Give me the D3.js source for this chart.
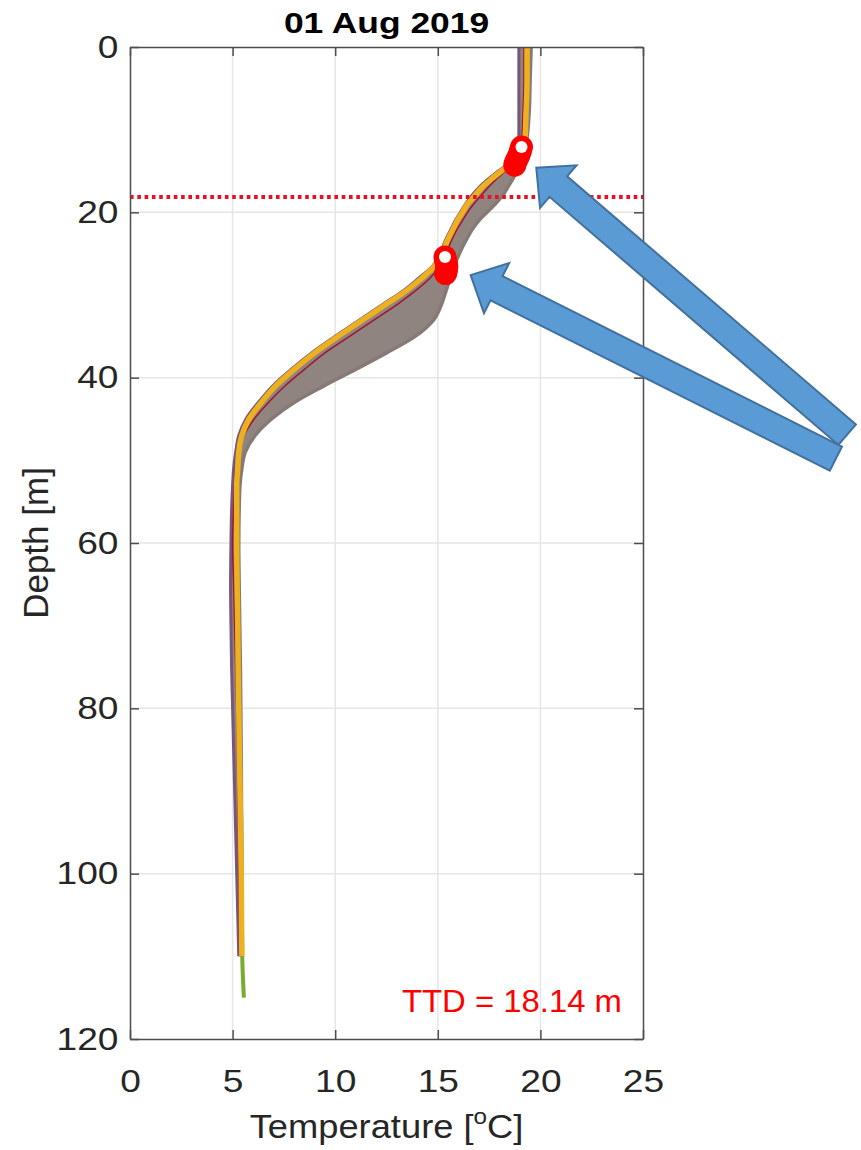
<!DOCTYPE html>
<html>
<head>
<meta charset="utf-8">
<script src="https://cdn.jsdelivr.net/npm/d3@7"></script>
<style>
  body { margin: 0; background: #fff; }
  svg { display: block; font-family: "Liberation Sans", Arial, Helvetica, sans-serif; }
</style>
</head>
<body>
<div id="main"></div>
<script>
// title / annotation
const titleText = '01 Aug 2019';
const ttdDepth = 18.14;

// tick values
const xTicks = [0, 5, 10, 15, 20, 25];
const yTicks = [0, 20, 40, 60, 80, 100, 120];

// depth levels (m) of the profiles
const depths     = [0, 4, 8, 11, 12.5, 14, 15, 16, 17, 18, 19, 20, 21, 22, 23.5, 25, 26.5, 28, 29.5, 31, 33, 35, 37, 39, 41, 43, 45, 47, 49, 51, 53, 56, 60, 65, 70, 75, 80, 90, 100, 110];
// coldest edge of the bundle of profiles
const coldEdge   = [18.95, 18.95, 18.95, 18.95, 18.9, 18.5, 17.95, 17.45, 17.0, 16.65, 16.35, 16.1, 15.85, 15.65, 15.35, 15.1, 14.75, 14.05, 13.3, 12.4, 11.2, 10.0, 8.85, 7.85, 6.95, 6.25, 5.65, 5.3, 5.15, 5.05, 5.0, 4.95, 4.92, 4.9, 4.92, 4.95, 5.0, 5.1, 5.2, 5.3];
// warmest edge of the bundle
const warmEdge   = [19.55, 19.5, 19.45, 19.35, 19.25, 19.0, 18.85, 18.65, 18.4, 18.15, 17.8, 17.4, 17.0, 16.7, 16.35, 16.05, 15.8, 15.6, 15.4, 15.2, 14.8, 13.9, 12.5, 11.0, 9.45, 8.0, 6.9, 6.1, 5.62, 5.45, 5.36, 5.32, 5.3, 5.32, 5.35, 5.38, 5.4, 5.43, 5.45, 5.45];
// single profiles that stand out
const yellowTemp = [19.35, 19.35, 19.3, 19.25, 19.1, 18.6, 18.1, 17.6, 17.15, 16.8, 16.45, 16.2, 15.95, 15.75, 15.45, 15.2, 14.85, 14.2, 13.45, 12.55, 11.35, 10.15, 9.0, 8.0, 7.1, 6.4, 5.8, 5.45, 5.3, 5.25, 5.2, 5.2, 5.2, 5.22, 5.25, 5.27, 5.3, 5.36, 5.42, 5.45];
const redTemp    = [19.2, 19.2, 19.15, 19.1, 19.0, 18.7, 18.3, 17.85, 17.45, 17.1, 16.75, 16.45, 16.2, 15.95, 15.65, 15.4, 15.1, 14.6, 13.9, 13.1, 11.9, 10.7, 9.5, 8.5, 7.55, 6.75, 6.05, 5.55, 5.3, 5.15, 5.1, 5.05, 5.0, 5.05, 5.1, 5.15, 5.2, 5.25, 5.3, 5.35];
const greenDepths = [60, 70, 80, 90, 100, 110, 115];
const greenTemp   = [5.25, 5.3, 5.35, 5.4, 5.44, 5.47, 5.55];

// detected layer markers
const upperMarkT = [18.75, 18.8, 18.88, 18.95, 19.02, 19.08];
const upperMarkD = [14.3, 13.9, 13.5, 13.1, 12.6, 12.1];
const lowerMarkT = [15.38, 15.42, 15.44, 15.42, 15.38, 15.35];
const lowerMarkD = [27.4, 27.0, 26.6, 26.2, 25.8, 25.4];

// call-out arrows (tip and tail, in data units)
const arrowTipT  = [19.8, 16.6];
const arrowTipD  = [14.6, 27.6];
const arrowTailT = [34.95, 34.4];
const arrowTailD = [46.9, 49.8];

const W = 861, H = 1150;
const stretch = 1.16;

const svg = d3.select('#main').append('svg')
  .attr('width', W)
  .attr('height', H);

const x = d3.scaleLinear().domain([0, 25]).range([130, 643]);
const y = d3.scaleLinear().domain([0, 120]).range([47, 1039]);

svg.append('clipPath').attr('id', 'plot')
  .append('rect')
  .attr('x', x(0)).attr('y', y(0))
  .attr('width', x(25) - x(0)).attr('height', y(120) - y(0));

// grid
const grid = svg.append('g');
grid.selectAll('.vg').data(xTicks.slice(1, -1)).enter().append('line')
  .attr('x1', d => x(d)).attr('x2', d => x(d))
  .attr('y1', y(0)).attr('y2', y(120))
  .attr('stroke', '#e6e6e6').attr('stroke-width', 1.5);
grid.selectAll('.hg').data(yTicks.slice(1, -1)).enter().append('line')
  .attr('x1', x(0)).attr('x2', x(25))
  .attr('y1', d => y(d)).attr('y2', d => y(d))
  .attr('stroke', '#e6e6e6').attr('stroke-width', 1.5);

// profiles
const plot = svg.append('g').attr('clip-path', 'url(#plot)');

const band = depths.map((d, i) => ({ d: d, c: coldEdge[i], w: warmEdge[i] }));
const toPts = (temps, ds) => temps.map((t, i) => ({ t: t, d: ds[i] }));

const line = d3.line()
  .x(p => x(p.t))
  .y(p => y(p.d))
  .curve(d3.curveMonotoneY);

const area = d3.area()
  .y(p => y(p.d))
  .x0(p => x(p.c))
  .x1(p => x(p.w))
  .curve(d3.curveMonotoneY);

plot.append('path')
  .attr('d', line(toPts(greenTemp, greenDepths)))
  .attr('fill', 'none').attr('stroke', '#77AC30').attr('stroke-width', 4);

plot.append('path')
  .attr('d', area(band))
  .attr('fill', '#8f8480');

plot.append('path')
  .attr('d', line(toPts(warmEdge, depths)))
  .attr('fill', 'none').attr('stroke', '#877a75').attr('stroke-width', 3.5);

plot.append('path')
  .attr('d', line(toPts(coldEdge, depths)))
  .attr('fill', 'none').attr('stroke', '#76577a').attr('stroke-width', 3);

plot.append('path')
  .attr('d', line(toPts(redTemp, depths)))
  .attr('fill', 'none').attr('stroke', '#A2142F').attr('stroke-width', 1.5);

plot.append('path')
  .attr('d', line(toPts(yellowTemp, depths)))
  .attr('fill', 'none').attr('stroke', '#EDB120').attr('stroke-width', 5.5)
  .attr('stroke-linejoin', 'round');

// TTD line
plot.append('line')
  .attr('x1', x(0)).attr('x2', x(25))
  .attr('y1', y(ttdDepth)).attr('y2', y(ttdDepth))
  .attr('stroke', '#ee0d22').attr('stroke-width', 4)
  .attr('stroke-dasharray', '3.6,3.7');

// markers
[[upperMarkT, upperMarkD], [lowerMarkT, lowerMarkD]].forEach(([ts, ds]) => {
  const pts = toPts(ts, ds);
  plot.selectAll(null).data(pts).enter().append('circle')
    .attr('cx', p => x(p.t)).attr('cy', p => y(p.d))
    .attr('r', 11.5).attr('fill', '#ff0000');
  const top = pts[pts.length - 1];
  plot.append('circle')
    .attr('cx', x(top.t)).attr('cy', y(top.d))
    .attr('r', 6).attr('fill', '#fff');
});

// axes: ticks inside on all four sides
const axisColor = '#4d4d4d';
const styleAxis = g => {
  g.select('.domain').attr('stroke', axisColor).attr('stroke-width', 1.5);
  g.selectAll('.tick line').attr('stroke', axisColor).attr('stroke-width', 1.5);
  g.selectAll('.tick text')
    .attr('fill', '#262626')
    .attr('font-size', 32)
    .attr('font-family', '"Liberation Sans", Arial, sans-serif');
};

svg.append('g')
  .attr('transform', `translate(0,${y(120)})`)
  .call(d3.axisBottom(x).tickValues(xTicks).tickSizeInner(-9).tickSizeOuter(0).tickPadding(30))
  .call(styleAxis)
  .selectAll('.tick text').attr('transform', `scale(${stretch},1)`);

svg.append('g')
  .attr('transform', `translate(0,${y(0)})`)
  .call(d3.axisTop(x).tickValues(xTicks).tickSizeInner(-9).tickSizeOuter(0).tickFormat(''))
  .call(styleAxis);

svg.append('g')
  .attr('transform', `translate(${x(0)},0)`)
  .call(d3.axisLeft(y).tickValues(yTicks).tickSizeInner(-9).tickSizeOuter(0).tickPadding(10))
  .call(styleAxis)
  .selectAll('.tick text').attr('transform', `scale(${stretch},1)`);

svg.append('g')
  .attr('transform', `translate(${x(25)},0)`)
  .call(d3.axisRight(y).tickValues(yTicks).tickSizeInner(-9).tickSizeOuter(0).tickFormat(''))
  .call(styleAxis);

// texts
const cx = (x(0) + x(25)) / 2;

svg.append('text')
  .attr('transform', `translate(${cx},33) scale(1.18,1)`)
  .attr('text-anchor', 'middle')
  .attr('font-weight', 'bold')
  .attr('font-size', 30)
  .attr('fill', '#000')
  .text(titleText);

const xl = svg.append('text')
  .attr('transform', `translate(${cx},1138) scale(1.1,1)`)
  .attr('text-anchor', 'middle')
  .attr('font-size', 33)
  .attr('fill', '#262626');
xl.append('tspan').text('Temperature [');
xl.append('tspan').attr('font-size', 22).attr('dy', -14).text('o');
xl.append('tspan').attr('dy', 14).text('C]');

svg.append('text')
  .attr('transform', `translate(48,${(y(0) + y(120)) / 2}) rotate(-90)`)
  .attr('text-anchor', 'middle')
  .attr('font-size', 35)
  .attr('fill', '#262626')
  .text('Depth [m]');

svg.append('text')
  .attr('transform', `translate(622,1012) scale(1.06,1)`)
  .attr('text-anchor', 'end')
  .attr('font-size', 31)
  .attr('fill', '#ff0000')
  .text(`TTD = ${ttdDepth} m`);

// call-out arrows
function arrowPoints(tip, tail, shaftW, headW, headL) {
  const dx = tip[0] - tail[0], dy = tip[1] - tail[1];
  const L = Math.hypot(dx, dy);
  const ux = dx / L, uy = dy / L, px = -uy, py = ux;
  const bx = tip[0] - ux * headL, by = tip[1] - uy * headL;
  return [
    [tail[0] + px * shaftW / 2, tail[1] + py * shaftW / 2],
    [bx + px * shaftW / 2, by + py * shaftW / 2],
    [bx + px * headW / 2, by + py * headW / 2],
    tip,
    [bx - px * headW / 2, by - py * headW / 2],
    [bx - px * shaftW / 2, by - py * shaftW / 2],
    [tail[0] - px * shaftW / 2, tail[1] - py * shaftW / 2]
  ];
}

const arrows = arrowTipT.map((t, i) => ({
  tip: [x(t), y(arrowTipD[i])],
  tail: [x(arrowTailT[i]), y(arrowTailD[i])]
})).reverse();

svg.selectAll('.arrow').data(arrows).enter().append('polygon')
  .attr('class', 'arrow')
  .attr('points', a => arrowPoints(a.tip, a.tail, 27, 56, 29).map(p => p.join(',')).join(' '))
  .attr('fill', '#5b9bd5')
  .attr('stroke', '#41719c')
  .attr('stroke-width', 2)
  .attr('stroke-linejoin', 'miter');
</script>
</body>
</html>
